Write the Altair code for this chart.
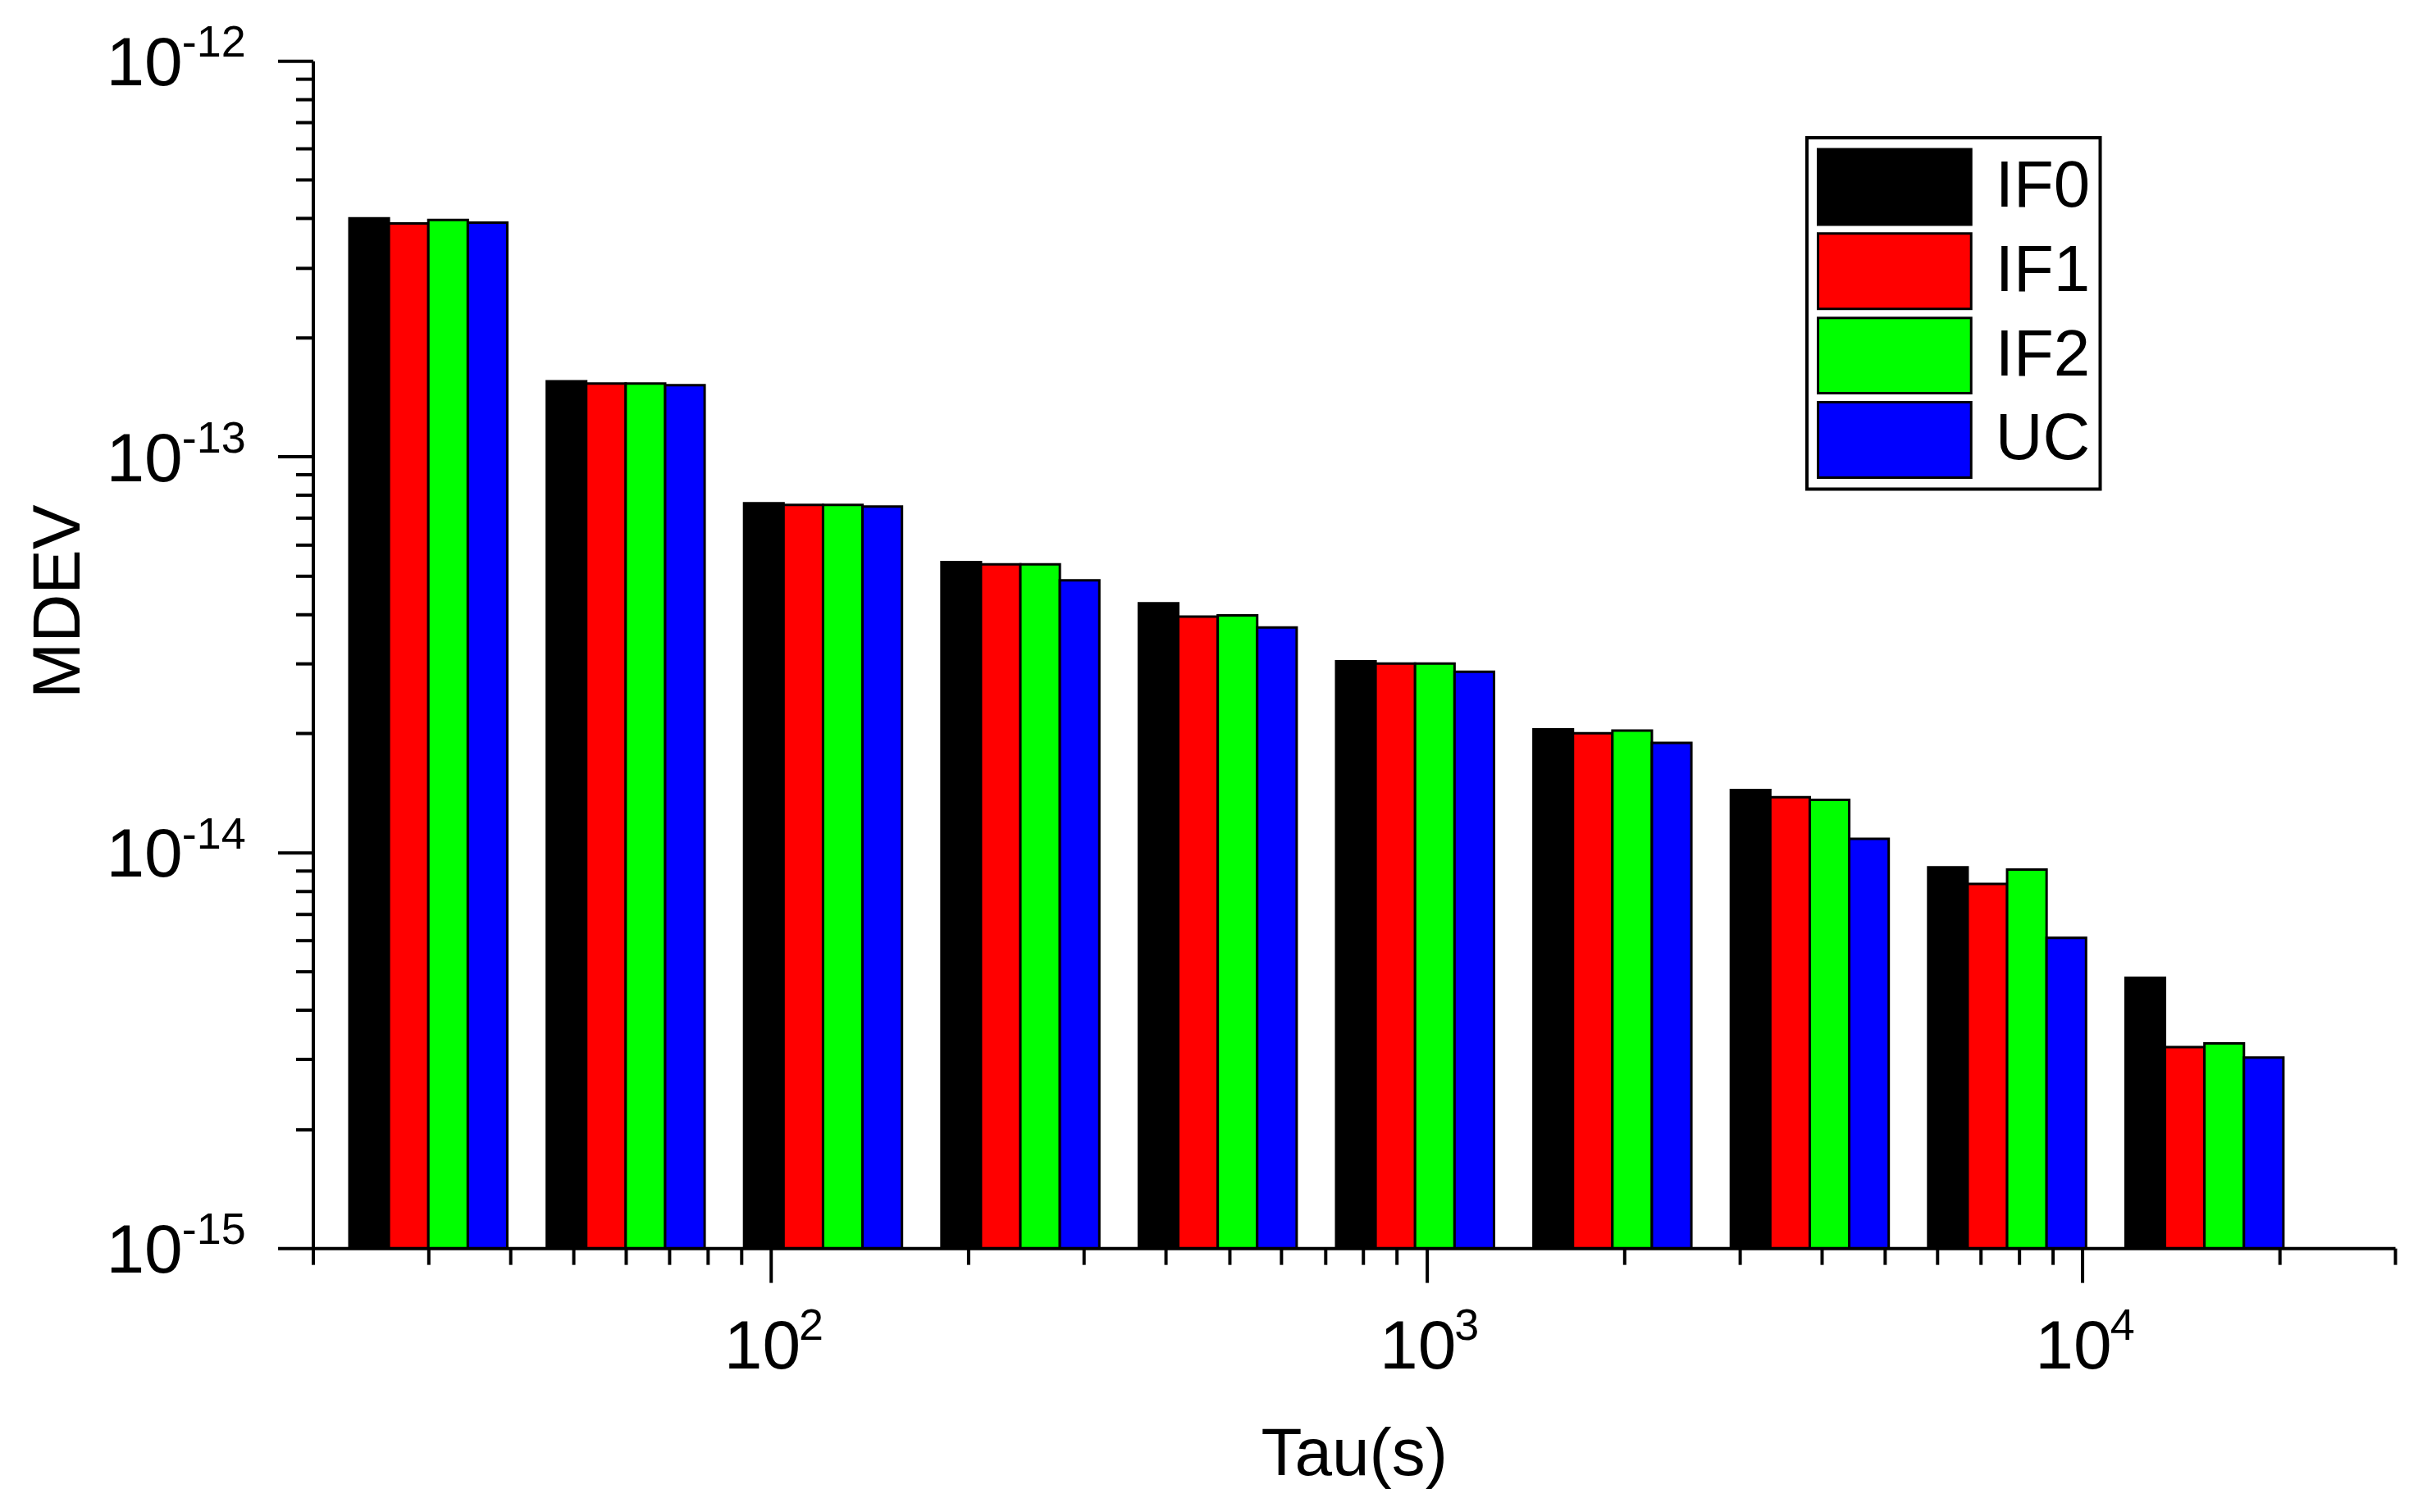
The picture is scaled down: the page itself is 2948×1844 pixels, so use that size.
import altair as alt
import pandas as pd

# ---------------- data ----------------
TAU = [30, 60, 120, 240, 480, 960, 1920, 3840, 7680, 15360]
SERIES = ["IF0", "IF1", "IF2", "UC"]
IF0 = [4.00e-13, 1.55e-13, 7.62e-14, 5.41e-14, 4.26e-14, 3.04e-14, 2.045e-14, 1.437e-14, 9.17e-15, 4.82e-15]
IF1 = [3.88e-13, 1.53e-13, 7.55e-14, 5.34e-14, 3.94e-14, 3.00e-14, 2.00e-14, 1.378e-14, 8.32e-15, 3.22e-15]
IF2 = [3.96e-13, 1.53e-13, 7.55e-14, 5.34e-14, 3.97e-14, 3.00e-14, 2.03e-14, 1.357e-14, 9.05e-15, 3.29e-15]
UC = [3.90e-13, 1.515e-13, 7.48e-14, 4.87e-14, 3.70e-14, 2.86e-14, 1.89e-14, 1.082e-14, 6.08e-15, 3.03e-15]
COLORS = ["#000000", "#ff0000", "#00ff00", "#0000ff"]

Y_LABEL_VALUES = [1e-12, 1e-13, 1e-14, 1e-15]
Y_LABEL_EXP = ["-12", "-13", "-14", "-15"]
X_LABEL_VALUES = [100, 1000, 10000]
X_LABEL_EXP = ["2", "3", "4"]

X_DOMAIN = [20, 30000]
Y_DOMAIN = [1e-15, 1e-12]
X_TICKS = [m * 10 ** e for e in (1, 2, 3, 4) for m in range(1, 10)
           if X_DOMAIN[0] <= m * 10 ** e <= X_DOMAIN[1]]
Y_TICKS = [m * 10.0 ** e for e in (-15, -14, -13) for m in range(1, 10)] + [1e-12]

FONT = "Liberation Sans"

# ---------------- tables ----------------
rows = []
for si, (name, vals) in enumerate(zip(SERIES, [IF0, IF1, IF2, UC])):
    for t, v in zip(TAU, vals):
        rows.append({
            "series": name,
            "x0": t * 2 ** (-0.4 + 0.2 * si),
            "x1": t * 2 ** (-0.2 + 0.2 * si),
            "mdev": v,
            "base": Y_DOMAIN[0],
        })
bars_df = pd.DataFrame(rows)
ylab_df = pd.DataFrame({"mdev": Y_LABEL_VALUES, "mant": ["10"] * len(Y_LABEL_VALUES), "exp": Y_LABEL_EXP})
xlab_df = pd.DataFrame({"x0": X_LABEL_VALUES, "mant": ["10"] * len(X_LABEL_VALUES), "exp": X_LABEL_EXP})

W, H = 2542, 1450
xscale = alt.Scale(type="log", domain=X_DOMAIN, nice=False)
yscale = alt.Scale(type="log", domain=Y_DOMAIN, nice=False)
major_test = "abs(log(datum.value)/LN10 - round(log(datum.value)/LN10)) < 0.001"

x_axis = alt.Axis(
    values=X_TICKS, labels=False, grid=False,
    domainColor="black", domainWidth=4, tickColor="black", tickWidth=4,
    tickSize={"condition": {"test": major_test, "value": 42}, "value": 20},
    title="Tau(s)", titleFont=FONT, titleFontSize=82, titleFontWeight="normal",
    titleColor="black", titleX=W / 2, titleY=277, titleBaseline="alphabetic", titleAlign="center",
)
y_axis = alt.Axis(
    values=Y_TICKS, labels=False, grid=False,
    domainColor="black", domainWidth=4, tickColor="black", tickWidth=4,
    tickSize={"condition": {"test": major_test, "value": 43}, "value": 21},
    title="MDEV", titleFont=FONT, titleFontSize=82, titleFontWeight="normal",
    titleColor="black", titleAngle=270, titleX=-310, titleY=660,
    titleBaseline="middle", titleAlign="center",
)

bars = alt.Chart(bars_df).mark_rect(stroke="black", strokeWidth=3, opacity=1).encode(
    x=alt.X("x0:Q", scale=xscale, axis=x_axis),
    x2="x1:Q",
    y=alt.Y("mdev:Q", scale=yscale, axis=y_axis),
    y2="base:Q",
    fill=alt.Fill(
        "series:N",
        scale=alt.Scale(domain=SERIES, range=COLORS),
        legend=alt.Legend(
            title=None, orient="none", legendX=1824, legendY=94, padding=12,
            strokeColor="black",
            symbolType="M-1,-0.492H1V0.492H-1Z", symbolSize=34969,
            symbolStrokeColor="black", symbolStrokeWidth=3, symbolOpacity=1,
            labelFont=FONT, labelFontSize=80, labelColor="black", labelOffset=28,
            clipHeight=96, rowPadding=7,
        ),
    ),
)

y10 = alt.Chart(ylab_df).mark_text(
    align="right", baseline="alphabetic", dy=30, fontSize=84, font=FONT, color="black"
).encode(y=alt.Y("mdev:Q", scale=yscale, axis=y_axis), x=alt.value(-159), text="mant:N")
yexp = alt.Chart(ylab_df).mark_text(
    align="left", baseline="alphabetic", dy=-5, fontSize=54, font=FONT, color="black"
).encode(y=alt.Y("mdev:Q", scale=yscale, axis=y_axis), x=alt.value(-160), text="exp:N")
x10 = alt.Chart(xlab_df).mark_text(
    align="right", baseline="alphabetic", dx=36, fontSize=84, font=FONT, color="black"
).encode(x=alt.X("x0:Q", scale=xscale, axis=x_axis), y=alt.value(1597), text="mant:N")
xexp = alt.Chart(xlab_df).mark_text(
    align="left", baseline="alphabetic", dx=34, fontSize=54, font=FONT, color="black"
).encode(x=alt.X("x0:Q", scale=xscale, axis=x_axis), y=alt.value(1562), text="exp:N")

chart = alt.layer(bars, y10, yexp, x10, xexp).properties(
    width=W, height=H,
    autosize=alt.AutoSizeParams(type="none"),
    padding={"left": 374, "top": 65, "right": 20, "bottom": 310},
    background="white",
).configure_view(strokeWidth=0).configure_legend(strokeWidth=4)

chart.save("out.html", embed_options={"renderer": "svg", "actions": False})
